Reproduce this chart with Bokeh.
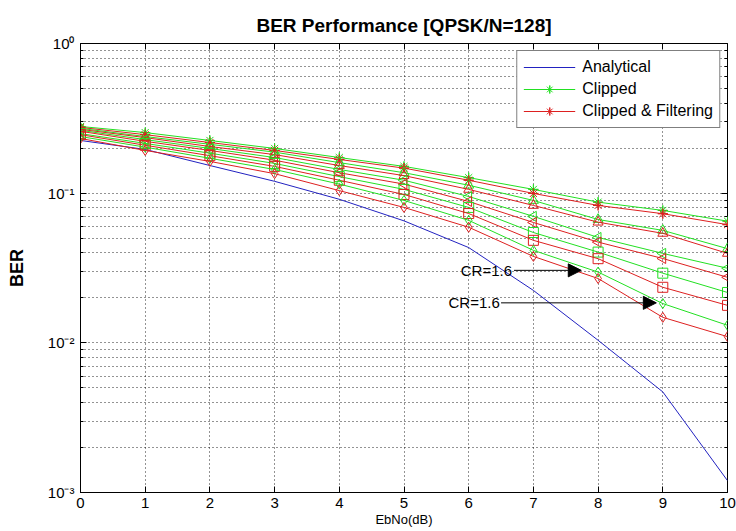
import numpy as np
from bokeh.plotting import figure
from bokeh.models import (FixedTicker, Arrow, NormalHead, Legend, LegendItem,
                          ColumnDataSource, LinearAxis, LogAxis)
from bokeh.embed import file_html
from bokeh.resources import INLINE
from bokeh.core.properties import value

# ---------------- data ----------------
ebno = [0, 1, 2, 3, 4, 5, 6, 7, 8, 9, 10]
analytical = [0.225, 0.196, 0.153, 0.120, 0.091, 0.0653, 0.0433, 0.0224, 0.0104, 0.0047, 0.0012]

clip_star = [0.279, 0.254, 0.225, 0.199, 0.173, 0.151, 0.127, 0.106, 0.0871, 0.0767, 0.0650]
filt_star = [0.275, 0.246, 0.218, 0.193, 0.168, 0.147, 0.122, 0.0996, 0.0828, 0.0729, 0.0616]
clip_tri = [0.271, 0.239, 0.212, 0.188, 0.160, 0.137, 0.113, 0.0894, 0.0667, 0.0564, 0.0426]
filt_tri = [0.267, 0.235, 0.205, 0.181, 0.153, 0.131, 0.106, 0.0828, 0.0640, 0.0539, 0.0396]
clip_left = [0.263, 0.228, 0.199, 0.173, 0.144, 0.122, 0.095, 0.0700, 0.0506, 0.0396, 0.0315]
filt_left = [0.259, 0.222, 0.193, 0.166, 0.137, 0.115, 0.088, 0.0637, 0.0471, 0.0366, 0.0274]
clip_sq = [0.250, 0.215, 0.185, 0.158, 0.129, 0.106, 0.0803, 0.0546, 0.0404, 0.0292, 0.0217]
filt_sq = [0.246, 0.209, 0.178, 0.151, 0.122, 0.098, 0.0731, 0.0484, 0.0365, 0.0235, 0.0178]
clip_dia = [0.239, 0.203, 0.171, 0.144, 0.115, 0.0894, 0.0658, 0.0415, 0.0297, 0.0183, 0.0131]
filt_dia = [0.232, 0.193, 0.163, 0.135, 0.104, 0.0803, 0.0592, 0.0378, 0.0269, 0.0148, 0.0110]

x_ticks = [0, 1, 2, 3, 4, 5, 6, 7, 8, 9, 10]
y_ticks = [0.001, 0.01, 0.1, 1.0]
y_tick_labels = ["10\u207b\u00b3", "10\u207b\u00b2", "10\u207b\u00b9", "10\u2070"]

ann_text = ["CR=1.6", "CR=1.6"]
ann_text_x = [6.67, 6.48]
ann_y = [0.0305, 0.0185]
ann_arrow_x0 = [6.70, 6.50]
ann_arrow_x1 = [7.74, 8.90]

# ---------------- figure ----------------
FONT = "Liberation Sans"
BLUE = "#2222c0"
GREEN = "#22e022"
RED = "#dd2020"

p = figure(width=736, height=531, y_axis_type="log",
           x_range=(0, 10), y_range=(1e-3, 1),
           output_backend="svg", toolbar_location=None,
           min_border_left=80, min_border_right=9, min_border_top=43, min_border_bottom=39,
           background_fill_color="white", border_fill_color="white")

xa = p.xaxis[0]
ya = p.yaxis[0]

p.title.text = "BER Performance [QPSK/N=128]"
p.title.align = "center"
p.title.text_font = FONT
p.title.text_font_size = "19px"
p.title.text_font_style = "bold"
p.title.text_color = "black"
p.title.offset = 0
p.title.standoff = 16

p.outline_line_color = "black"
p.outline_line_width = 1

minor = []
for d in [1e-3, 1e-2, 1e-1]:
    minor += [k * d for k in range(2, 10)]

# main axes
xa.ticker = FixedTicker(ticks=x_ticks)
ya.ticker = FixedTicker(ticks=y_ticks, minor_ticks=minor)
ya.major_label_overrides = {t: l for t, l in zip(y_ticks, y_tick_labels)}

for ax in (xa, ya):
    ax.axis_line_color = "black"
    ax.major_tick_in = 6
    ax.major_tick_out = 0
    ax.minor_tick_in = 3
    ax.minor_tick_out = 0
    ax.major_tick_line_color = "black"
    ax.minor_tick_line_color = "black"
    ax.major_label_text_font = FONT
    ax.major_label_text_font_size = "15px"
    ax.major_label_text_color = "black"
    ax.axis_label_text_font = FONT
    ax.axis_label_text_color = "black"

xa.axis_label = "EbNo(dB)"
xa.axis_label_text_font_size = "13px"
xa.axis_label_text_font_style = "normal"
xa.axis_label_standoff = 1
xa.major_label_standoff = 5

ya.axis_label = "BER"
ya.axis_label_text_font_size = "18px"
ya.axis_label_text_font_style = "bold"
ya.axis_label_standoff = 18
ya.major_label_standoff = 6

# box-style ticks on top and right (labels invisible)
top_ax = LinearAxis(ticker=FixedTicker(ticks=x_ticks),
                    major_label_text_font_size="1px", major_label_text_alpha=0,
                    major_label_standoff=0, axis_line_color=None,
                    major_tick_in=6, major_tick_out=0, minor_tick_in=0, minor_tick_out=0,
                    major_tick_line_color="black")
right_ax = LogAxis(ticker=FixedTicker(ticks=y_ticks, minor_ticks=minor),
                   major_label_text_font_size="1px", major_label_text_alpha=0,
                   major_label_standoff=0, axis_line_color=None,
                   major_tick_in=6, major_tick_out=0, minor_tick_in=3, minor_tick_out=0,
                   major_tick_line_color="black", minor_tick_line_color="black")
p.add_layout(top_ax, "above")
p.add_layout(right_ax, "right")

# grids
for g in (p.xgrid, p.ygrid):
    g.grid_line_color = "black"
    g.grid_line_dash = "1 3"
    g.grid_line_alpha = 0.85
p.ygrid.minor_grid_line_color = "black"
p.ygrid.minor_grid_line_dash = "1 3"
p.ygrid.minor_grid_line_alpha = 0.85

# ---------------- series ----------------
an = p.line(ebno, analytical, line_color=BLUE, line_width=1)

series = [
    ("asterisk", 0.0, clip_star, filt_star),
    ("triangle", 0.0, clip_tri, filt_tri),
    ("triangle", np.pi / 2, clip_left, filt_left),
    ("square", 0.0, clip_sq, filt_sq),
    ("diamond", 0.0, clip_dia, filt_dia),
]

legend_clip = None
legend_filt = None
for marker, ang, cv, fv in series:
    for vals, col in ((cv, GREEN), (fv, RED)):
        src = ColumnDataSource(dict(x=ebno, y=vals))
        ln = p.line("x", "y", source=src, line_color=col, line_width=1)
        sc = p.scatter("x", "y", source=src, marker=marker, angle=ang, size=10,
                       line_color=col, fill_color=None, line_width=1)
        if marker == "asterisk":
            sc2 = p.scatter("x", "y", source=src, marker="cross", size=10,
                            line_color=col, line_width=1)
            if col == GREEN:
                legend_clip = [ln, sc, sc2]
            else:
                legend_filt = [ln, sc, sc2]

# ---------------- annotations ----------------
p.text(x=ann_text_x, y=ann_y, text=ann_text, text_align="right", text_baseline="middle",
       text_font=value(FONT), text_font_size="15px", text_color="black")
for x0, x1, yy in zip(ann_arrow_x0, ann_arrow_x1, ann_y):
    p.add_layout(Arrow(end=NormalHead(size=13, fill_color="black", line_color="black"),
                       x_start=x0, y_start=yy, x_end=x1, y_end=yy,
                       line_color="black", line_width=1))

# ---------------- legend ----------------
legend = Legend(items=[
    LegendItem(label="Analytical", renderers=[an]),
    LegendItem(label="Clipped", renderers=legend_clip),
    LegendItem(label="Clipped & Filtering", renderers=legend_filt),
], location="top_right")
legend.label_text_font = FONT
legend.label_text_font_size = "16px"
legend.label_text_color = "black"
legend.glyph_width = 52
legend.glyph_height = 20
legend.spacing = 2
legend.padding = 6
legend.margin = 7
legend.label_standoff = 7
legend.border_line_color = "black"
legend.border_line_width = 1
legend.background_fill_color = "white"
legend.background_fill_alpha = 1.0
p.add_layout(legend)

open("out.html", "w").write(file_html(p, INLINE))
